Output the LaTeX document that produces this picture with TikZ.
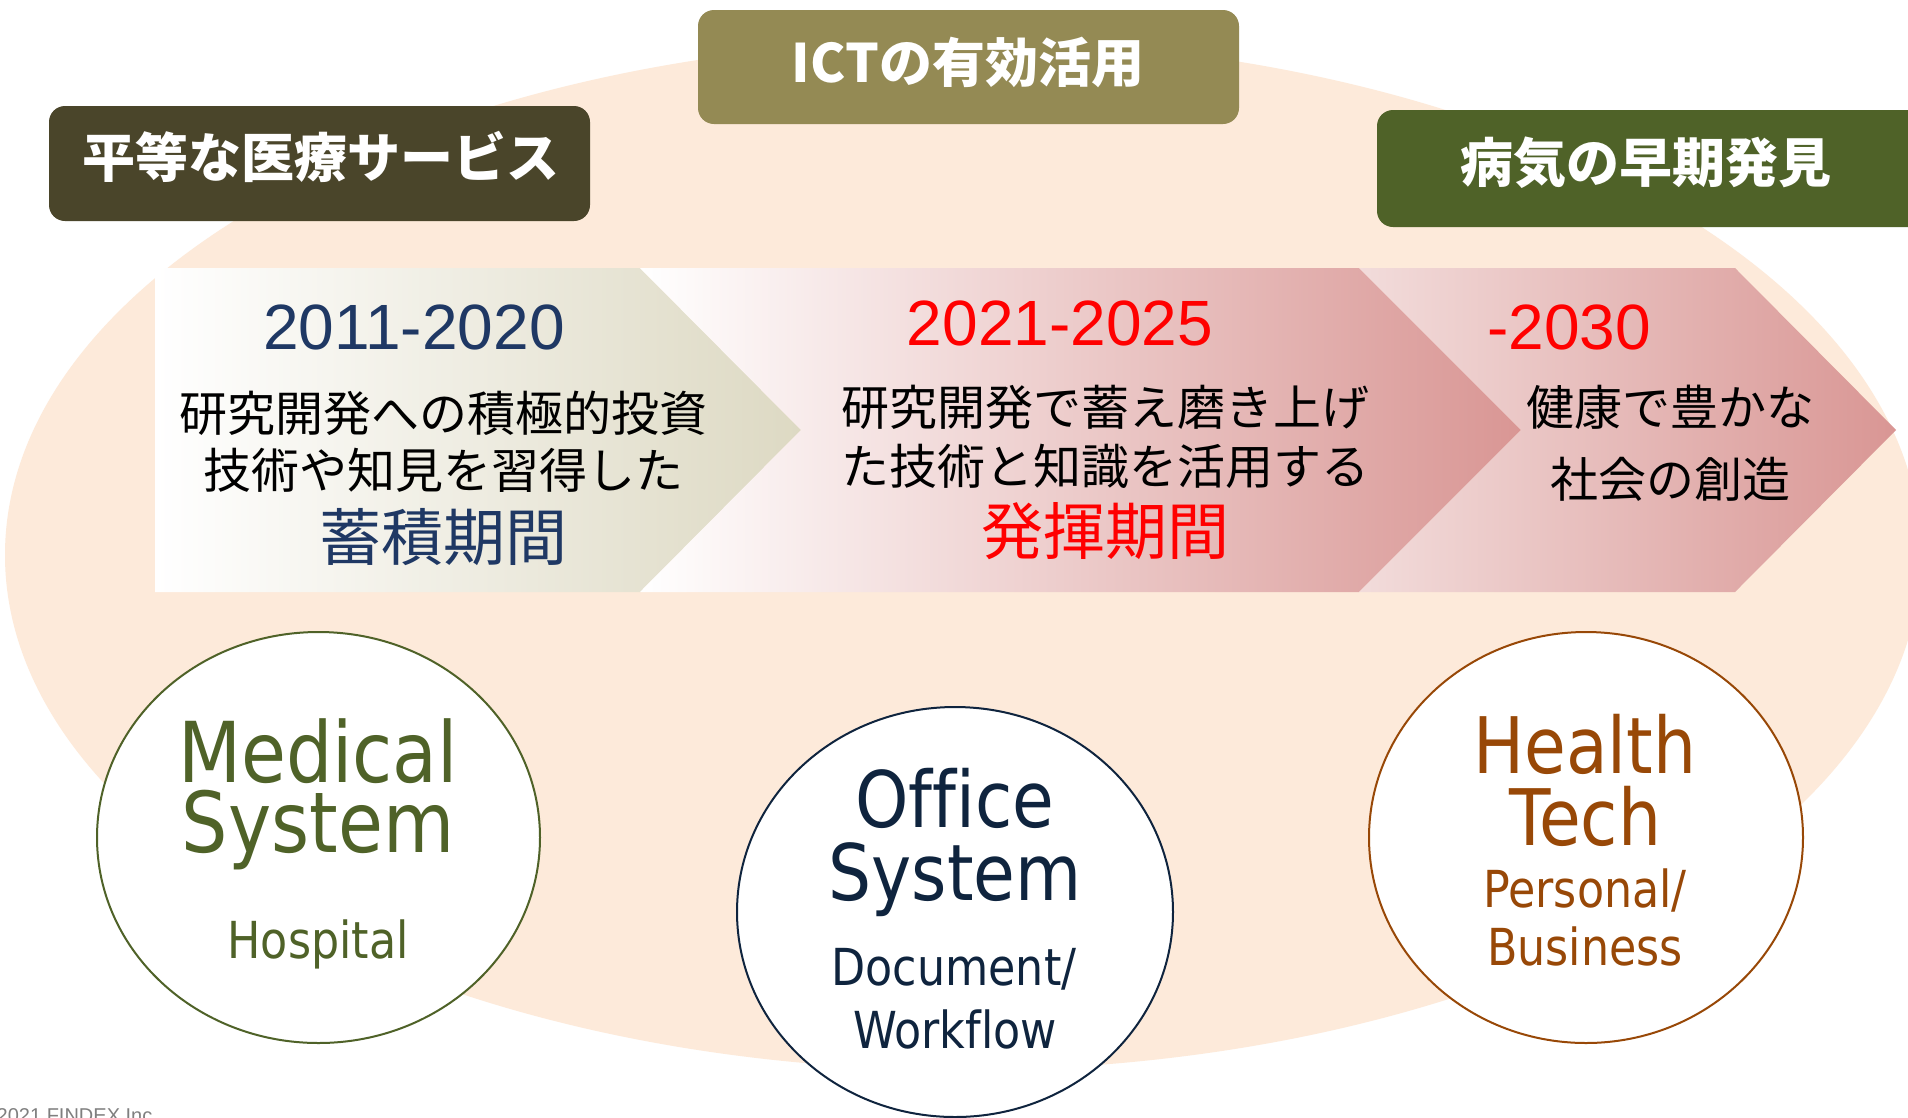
\documentclass[tikz,border=0pt]{standalone}
\usepackage{fontspec}
\setmainfont{Liberation Sans}
\newfontfamily\jp{Noto Sans CJK JP}
\newfontfamily\tah[FakeStretch=0.87,Ligatures=NoCommon]{DejaVu Sans}
\usetikzlibrary{shapes.geometric}
\definecolor{bgc}{HTML}{FDEADA}
\definecolor{boxA}{HTML}{4A452A}
\definecolor{boxB}{HTML}{948A54}
\definecolor{boxC}{HTML}{4F6228}
\definecolor{chevA}{HTML}{DDD9C3}
\definecolor{chevR}{HTML}{D99694}
\definecolor{chevL}{HTML}{F2DCDB}
\definecolor{navyT}{HTML}{1F3864}
\definecolor{navyO}{HTML}{0F243E}
\definecolor{medG}{HTML}{4F6228}
\definecolor{hBrown}{HTML}{984807}
\definecolor{redT}{HTML}{FF0000}
\definecolor{copyG}{HTML}{7F7F7F}
\newcommand\fsz[1]{\fontsize{#1}{#1}\selectfont}
\begin{document}
\begin{tikzpicture}[x=1pt,y=-1pt,
  lbl/.style={anchor=base, inner sep=0pt, outer sep=0pt},
  hdrbox/.style={rounded corners=16pt},
  hdrtxt/.style={lbl, text=white, font=\jp\bfseries\fsz{53}},
  jptxt/.style={lbl, text=black, font=\jp\fsz{48}},
  bigjp/.style={lbl, font=\jp\fsz{62}},
  year/.style={lbl, font=\fsz{64}},
  circ/.style={ellipse, draw, line width=2pt, fill=white, inner sep=0pt},
  bigl/.style={lbl, font=\tah\fsz{84}},
  midl/.style={lbl, font=\tah\fsz{78}},
  smll/.style={lbl, font=\tah\fsz{51}}]
\useasboundingbox (0,0) rectangle (1908,1117);
\clip (0,0) rectangle (1908,1117);
\fill[white] (0,0) rectangle (1908,1117);
% background ellipse
\fill[bgc] (963,555) ellipse [x radius=958, y radius=515];
% header boxes
\fill[boxA, hdrbox] (49,106) rectangle (590,221);
\fill[boxB, hdrbox] (698,10) rectangle (1239,124);
\fill[boxC, hdrbox] (1377,110) rectangle (1925,227);
\node[hdrtxt] (h1) at (321,177) {平等な医療サービス};
\node[hdrtxt] (h2) at (968,82) {ICTの有効活用};
\node[hdrtxt] (h3) at (1646,182) {病気の早期発見};
% chevrons
\shade[left color=white, right color=chevA]
  (155,268) -- (640,268) -- (801,430) -- (640,592) -- (155,592) -- cycle;
\shade[left color=white, right color=chevR]
  (640,268) -- (1359,268) -- (1521,430) -- (1359,592) -- (640,592) -- (801,430) -- cycle;
\shade[left color=chevL, right color=chevR]
  (1359,268) -- (1735,268) -- (1896,430) -- (1735,592) -- (1359,592) -- (1521,430) -- cycle;
% chevron 1 text
\node[year, text=navyT] (y1) at (414,349) {2011-2020};
\node[jptxt] (t1a) at (443,431) {研究開発への積極的投資};
\node[jptxt] (t1b) at (443,488) {技術や知見を習得した};
\node[bigjp, text=navyT] (t1c) at (443,560) {蓄積期間};
% chevron 2 text
\node[year, text=redT] (y2) at (1060,345) {2021-2025};
\node[jptxt] (t2a) at (1105,425) {研究開発で蓄え磨き上げ};
\node[jptxt] (t2b) at (1105,484) {た技術と知識を活用する};
\node[bigjp, text=redT] (t2c) at (1105,554) {発揮期間};
% chevron 3 text
\node[year, text=redT] (y3) at (1569,349) {-2030};
\node[jptxt] (t3a) at (1670,425) {健康で豊かな};
\node[jptxt] (t3b) at (1670,497) {社会の創造};
% circles
\node[circ, draw=medG, minimum width=443pt, minimum height=411pt] (cm) at (318.5,837.5) {};
\node[circ, draw=navyO, minimum width=436pt, minimum height=410pt] (co) at (955,912) {};
\node[circ, draw=hBrown, minimum width=434pt, minimum height=411pt] (ch) at (1586,837.5) {};
% medical
\node[bigl, text=medG] (m1) at (318,782) {Medical};
\node[bigl, text=medG] (m2) at (318,852) {System};
\node[smll, text=medG] (m3) at (318,958) {Hospital};
% office
\node[midl, text=navyO] (o1) at (955,827) {Office};
\node[midl, text=navyO] (o2) at (955,900) {System};
\node[smll, text=navyO] (o3) at (954,985) {Document/};
\node[smll, text=navyO] (o4) at (955,1048) {Workflow};
% health
\node[midl, text=hBrown] (e1) at (1585,773) {Health};
\node[midl, text=hBrown] (e2) at (1585,845) {Tech};
\node[smll, text=hBrown] (e3) at (1585,907) {Personal/};
\node[smll, text=hBrown] (e4) at (1585,965) {Business};
% copyright
\node[lbl, anchor=base west, text=copyG, font=\fsz{20}] (cp) at (-18,1122) {©2021 FINDEX Inc};
\end{tikzpicture}
\end{document}
